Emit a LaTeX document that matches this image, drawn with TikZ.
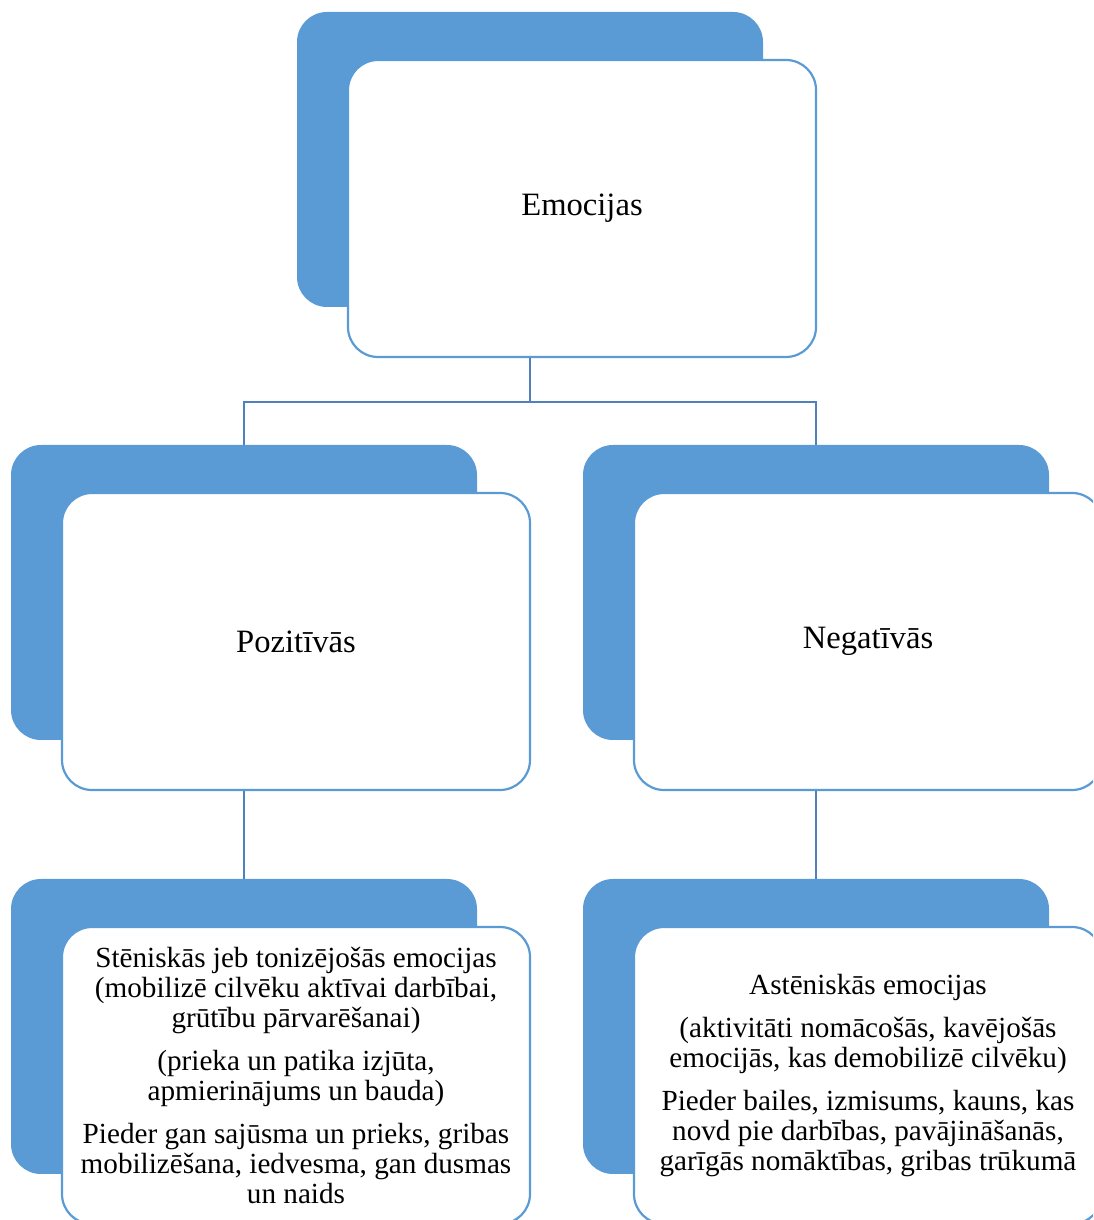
\documentclass[tikz,border=0pt]{standalone}
\usepackage{fontspec}
\setmainfont{Liberation Serif}
\definecolor{accent}{HTML}{5B9BD5}
\definecolor{linkblue}{HTML}{4F81BD}
\tikzset{
  backbox/.style={rectangle,rounded corners=30pt,fill=accent,minimum width=466pt,minimum height=295pt},
  frontbox/.style={rectangle,rounded corners=30pt,fill=white,draw=accent,line width=2.2pt,
    minimum width=468pt,minimum height=297pt,align=center,font=\fontsize{32.6}{36}\selectfont},
  smalltext/.style={font=\fontsize{29.2}{30}\selectfont},
  link/.style={draw=linkblue,line width=2.4pt}
}
\begin{document}
\begin{tikzpicture}[x=1pt,y=1pt]
    \useasboundingbox (0,0) rectangle (1093,1220);
    \clip (0,0) rectangle (1093,1220);
    \node[backbox] (emoback) at (530,1060.5) {};
    \node[frontbox] (emocijas) at ([shift={(52,-49)}]emoback.center) {Emocijas};
    \node[backbox] (pozback) at (244,627.5) {};
    \node[frontbox] (pozitivas) at ([shift={(52,-49)}]pozback.center) {Pozitīvās};
    \node[backbox] (negback) at (816,627.5) {};
    \node[frontbox] (negativas) at ([shift={(52,-49)}]negback.center) {Negatīvās};
    \node[backbox] (stenback) at (244,193.5) {};
    \node[frontbox,smalltext] (stenisks) at ([shift={(52,-49)}]stenback.center)
      {Stēniskās jeb tonizējošās emocijas\\(mobilizē cilvēku aktīvai darbībai,\\grūtību pārvarēšanai)\\[13pt]
       (prieka un patika izjūta,\\apmierinājums un bauda)\\[13pt]
       Pieder gan sajūsma un prieks, gribas\\mobilizēšana, iedvesma, gan dusmas\\un naids};
    \node[backbox] (astenback) at (816,193.5) {};
    \node[frontbox,smalltext] (astenisks) at ([shift={(52,-49)}]astenback.center)
      {Astēniskās emocijas\\[13pt]
       (aktivitāti nomācošās, kavējošās\\emocijās, kas demobilizē cilvēku)\\[13pt]
       Pieder bailes, izmisums, kauns, kas\\novd pie darbības, pavājināšanās,\\garīgās nomāktības, gribas trūkumā};
    % connectors
    \draw[link] (emoback |- emocijas.south) -- ++(0,-44) -| (pozback.north);
    \draw[link] (emoback |- emocijas.south) -- ++(0,-44) -| (negback.north);
    \draw[link] (pozback |- pozitivas.south) -- (stenback.north);
    \draw[link] (negback |- negativas.south) -- (astenback.north);
\end{tikzpicture}
\end{document}
